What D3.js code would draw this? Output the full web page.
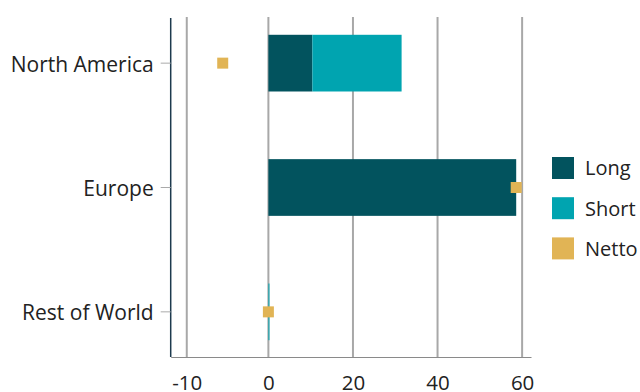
<!DOCTYPE html>
<html>
<head>
<meta charset="utf-8">
<script src="https://cdn.jsdelivr.net/npm/d3@7"></script>
<style>
  html, body { margin: 0; padding: 0; background: #fff; }
  svg text { font-family: "Open Sans", sans-serif; fill: #222; }
</style>
</head>
<body>
<svg id="chart" width="640" height="392"></svg>
<script>
// Regions and their positions
const regions = ["North America", "Europe", "Rest of World"];
const longValues = [10.4, 58.6, 0.0];
const shortValues = [21.1, 0.0, 0.25];
const nettoValues = [-10.8, 58.6, 0.0];

// Axis ticks: positions on the value scale and the labels printed under them
const tickPositions = [-19.3, 0, 20, 40, 60];
const tickLabels = ["-10", "0", "20", "40", "60"];

const seriesNames = ["Long", "Short", "Netto"];
const seriesColors = ["#02535e", "#00a4b0", "#e1b455"];

const svg = d3.select("#chart");
const plotLeft = 170.7, plotRight = 531, plotTop = 18, plotBottom = 357;

const x = d3.scaleLinear().domain([-23.1, 62.1]).range([plotLeft, plotRight]);
const y = d3.scaleBand().domain(regions).range([plotTop, plotBottom])
  .paddingInner(0.544).paddingOuter(0.135);

// Vertical gridlines
svg.append("g")
  .selectAll("line")
  .data(tickPositions)
  .join("line")
  .attr("x1", d => x(d)).attr("x2", d => x(d))
  .attr("y1", plotTop - 1).attr("y2", plotBottom)
  .attr("stroke", "#a8a8a8")
  .attr("stroke-width", 2);

// Long bars start at zero, short bars stack on top of the long bars
const bars = svg.append("g");
bars.selectAll("rect.long")
  .data(regions)
  .join("rect")
  .attr("class", "long")
  .attr("x", (d, i) => x(0))
  .attr("width", (d, i) => x(longValues[i]) - x(0))
  .attr("y", d => y(d))
  .attr("height", y.bandwidth())
  .attr("fill", seriesColors[0]);

bars.selectAll("rect.short")
  .data(regions)
  .join("rect")
  .attr("class", "short")
  .attr("x", (d, i) => x(longValues[i]))
  .attr("width", (d, i) => x(longValues[i] + shortValues[i]) - x(longValues[i]))
  .attr("y", d => y(d))
  .attr("height", y.bandwidth())
  .attr("fill", seriesColors[1]);

// Net position markers
const mk = 11;
svg.append("g")
  .selectAll("rect")
  .data(regions)
  .join("rect")
  .attr("x", (d, i) => x(nettoValues[i]) - mk / 2)
  .attr("y", d => y(d) + y.bandwidth() / 2 - mk / 2)
  .attr("width", mk)
  .attr("height", mk)
  .attr("fill", seriesColors[2]);

// X axis
const xAxis = svg.append("g")
  .attr("transform", `translate(0,${plotBottom})`)
  .call(d3.axisBottom(x).tickValues(tickPositions)
    .tickFormat((d, i) => tickLabels[i]).tickSize(0).tickPadding(18.5));
xAxis.select(".domain").attr("stroke", "#8a8a8a").attr("stroke-width", 1.2);
xAxis.selectAll("text").attr("font-size", 20.5).attr("fill", "#222")
  .attr("font-family", "Open Sans, sans-serif");

// Y axis
const yAxis = svg.append("g")
  .attr("transform", `translate(${plotLeft},0)`)
  .call(d3.axisLeft(y).tickSize(10).tickPadding(7));
yAxis.select(".domain").attr("stroke", "#1d3a4e").attr("stroke-width", 1.5)
  .attr("d", `M0,${plotTop}V${plotBottom}`);
yAxis.selectAll(".tick line").attr("stroke", "#aaa").attr("stroke-width", 1);
yAxis.selectAll("text").attr("font-size", 21).attr("fill", "#222")
  .attr("dy", "0.4em")
  .attr("font-family", "Open Sans, sans-serif");

// Legend
const legend = svg.append("g").attr("transform", "translate(552,157)");
const items = legend.selectAll("g")
  .data(seriesNames)
  .join("g")
  .attr("transform", (d, i) => `translate(0,${i * 40.2})`);
items.append("rect")
  .attr("width", 22).attr("height", 22)
  .attr("fill", (d, i) => seriesColors[i]);
items.append("text")
  .attr("x", 33).attr("y", 11).attr("dy", "0.37em")
  .attr("font-size", 20)
  .text(d => d);
</script>
</body>
</html>
